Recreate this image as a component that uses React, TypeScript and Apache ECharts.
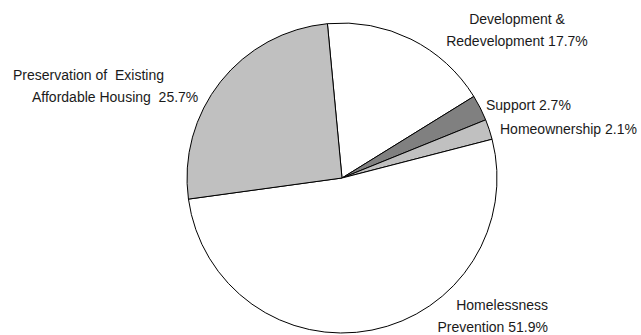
import React, { useEffect, useRef } from "react";
import * as echarts from "echarts";

const categories = [
  "Development &\nRedevelopment",
  "Support",
  "Homeownership",
  "Homelessness\nPrevention",
  "Preservation of  Existing\nAffordable Housing ",
];
const values = [17.7, 2.7, 2.1, 51.9, 25.7];
const colors = ["#ffffff", "#808080", "#c0c0c0", "#ffffff", "#c0c0c0"];

const FONT = "'Liberation Sans Narrow', 'Arial Narrow', 'Liberation Sans', sans-serif";

export default function App() {
  const ref = useRef<HTMLDivElement>(null);
  useEffect(() => {
    if (!ref.current) return;
    const chart = echarts.init(ref.current, null, { renderer: "svg" });
    const labelPos = [
      { x: 517, y: 30, align: "center" },
      { x: 486, y: 105, align: "left" },
      { x: 500, y: 129, align: "left" },
      { x: 548, y: 316, align: "right" },
      { x: 13, y: 86, align: "left" },
    ];
    chart.setOption({
      animation: false,
      backgroundColor: "#ffffff",
      series: [
        {
          type: "pie",
          center: [342, 178],
          radius: 155,
          startAngle: 95.4,
          clockwise: true,
          silent: true,
          data: categories.map((c, i) => ({
            name: c,
            value: values[i],
            itemStyle: { color: colors[i], borderColor: "#000000", borderWidth: 1 },
          })),
          label: {
            show: true,
            position: "outside",
            alignTo: "none",
            overflow: "none",
            fontFamily: FONT,
            fontSize: 14,
            color: "#1a1a1a",
            lineHeight: 22,
            formatter: (p: any) => {
              const v = values[p.dataIndex].toFixed(1) + "%";
              const lines = categories[p.dataIndex].split("\n");
              if (p.dataIndex === 4) {
                return "{a|" + lines[0] + "}\n{b|" + lines[1] + " " + v + "}";
              }
              if (lines.length === 2) {
                return lines[0] + "\n" + lines[1] + " " + v;
              }
              return lines[0] + " " + v;
            },
            rich: {
              a: { fontFamily: FONT, fontSize: 14, lineHeight: 22, color: "#1a1a1a", align: "left" },
              b: { fontFamily: FONT, fontSize: 14, lineHeight: 22, color: "#1a1a1a", align: "left", padding: [0, 0, 0, 19] },
            },
          },
          labelLine: { show: false },
          labelLayout: (params: any) => {
            const p = labelPos[params.dataIndex];
            return { x: p.x, y: p.y, align: p.align, verticalAlign: "middle" };
          },
        },
      ],
    });
    return () => chart.dispose();
  }, []);
  return <div ref={ref} style={{ width: 641, height: 335, position: "absolute", left: 0, top: 0 }} />;
}
